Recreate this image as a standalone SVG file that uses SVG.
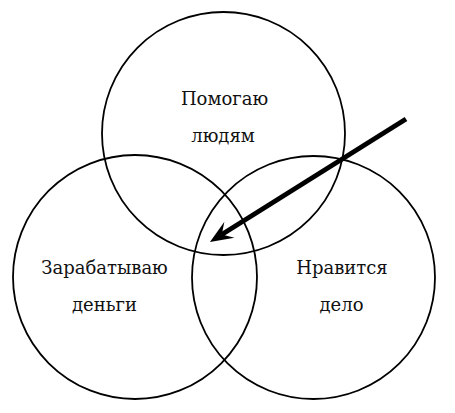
<svg xmlns="http://www.w3.org/2000/svg" width="455" height="413" viewBox="0 0 455 413">
<style>
.c{fill:none;stroke:#000;stroke-width:1.8}
.t{font-family:"DejaVu Serif","Liberation Serif",serif;font-size:18px;fill:#111;text-anchor:middle}
.a{fill:none;stroke:#000;stroke-width:5}
</style>
<defs>
<marker id="ah" markerUnits="userSpaceOnUse" viewBox="-24 -12 26 24" markerWidth="26" markerHeight="24" refX="-14" refY="0" orient="auto">
<path d="M0,0 L-23,-9.5 L-14,0 L-23,9.5 Z" fill="#000"/>
</marker>
</defs>
<rect width="455" height="413" fill="#fff"/>
<g id="node-help">
<circle class="c" cx="223.5" cy="133.5" r="121.5"/>
<text class="t" x="224.5" y="105">Помогаю</text>
<text class="t" x="223" y="142">людям</text>
</g>
<g id="node-money">
<circle class="c" cx="135" cy="277" r="122"/>
<text class="t" x="104.5" y="274">Зарабатываю</text>
<text class="t" x="104.5" y="311">деньги</text>
</g>
<g id="node-like">
<circle class="c" cx="313.5" cy="277.5" r="121.5"/>
<text class="t" x="342" y="274">Нравится</text>
<text class="t" x="341.5" y="311">дело</text>
</g>
<g id="connectors">
<line class="a" x1="406" y1="119" x2="221.8" y2="234.5" marker-end="url(#ah)"/>
</g>
</svg>
